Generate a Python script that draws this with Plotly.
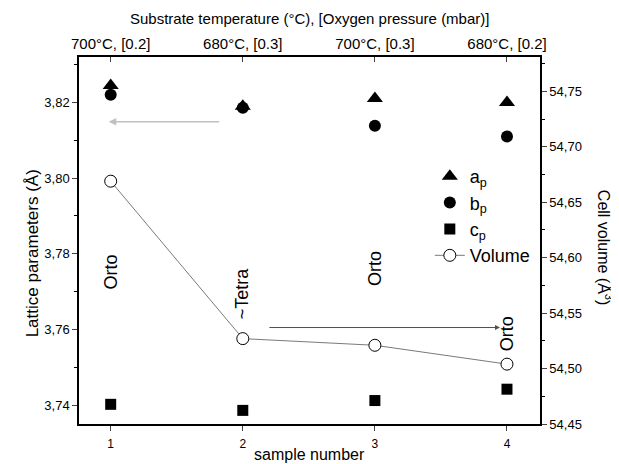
import plotly.graph_objects as go

samples = [1, 2, 3, 4]
top_labels = ["700°C, [0.2]", "680°C, [0.3]", "700°C, [0.3]", "680°C, [0.2]"]
a_p = [3.8245, 3.8190, 3.8210, 3.8200]
b_p = [3.8220, 3.8186, 3.8138, 3.8110]
c_p = [3.7402, 3.7386, 3.7412, 3.7442]
volume = [54.669, 54.527, 54.521, 54.504]
phase_labels = ["Orto", "~Tetra", "Orto", "Orto"]
phase_label_y = [3.7752, 3.7695, 3.7762, 3.7590]

FONT = "Liberation Sans, Arial, sans-serif"
XR = [0.76, 4.25]

fig = go.Figure()
fig.add_trace(go.Scatter(x=samples, y=a_p, mode="markers", name="a<sub>p</sub>",
                         marker=dict(symbol="triangle-up", size=14, color="black")))
fig.add_trace(go.Scatter(x=samples, y=b_p, mode="markers", name="b<sub>p</sub>",
                         marker=dict(symbol="circle", size=12, color="black")))
fig.add_trace(go.Scatter(x=samples, y=c_p, mode="markers", name="c<sub>p</sub>",
                         marker=dict(symbol="square", size=11, color="black")))
fig.add_trace(go.Scatter(x=samples, y=volume, mode="lines+markers", name="Volume", yaxis="y2",
                         line=dict(color="#7a7a7a", width=1),
                         marker=dict(symbol="circle", size=12, color="white",
                                     line=dict(color="black", width=1))))
# invisible trace to activate the top axis
fig.add_trace(go.Scatter(x=samples, y=a_p, xaxis="x2", mode="markers", showlegend=False,
                         marker=dict(opacity=0), hoverinfo="skip"))

ann = []
for s, t, yv in zip(samples, phase_labels, phase_label_y):
    ann.append(dict(x=s, y=yv, xref="x", yref="y", text=t, showarrow=False, textangle=-90,
                    font=dict(family=FONT, size=18, color="black")))
# arrows
ann.append(dict(x=0.985, y=3.8149, ax=1.833, ay=3.8149, xref="x", yref="y", axref="x", ayref="y",
                text="", showarrow=True, arrowhead=2, arrowsize=1, arrowwidth=1.5, arrowcolor="#c0c0c0"))
ann.append(dict(x=3.947, y=3.7605, ax=2.19, ay=3.7605, xref="x", yref="y", axref="x", ayref="y",
                text="", showarrow=True, arrowhead=2, arrowsize=1, arrowwidth=1, arrowcolor="#505050"))
# left axis title
ann.append(dict(x=0.0, y=0.465, xref="paper", yref="paper", xanchor="center", yanchor="middle",
                xshift=-47, text="Lattice parameters (Å)", showarrow=False, textangle=-90,
                font=dict(family=FONT, size=17, color="black")))
# right axis title (rotated +90)
ann.append(dict(x=1.0, y=0.48, xref="paper", yref="paper", xanchor="center", yanchor="middle",
                xshift=65, text="Cell volume (Å<sup>3</sup>)", showarrow=False, textangle=90,
                font=dict(family=FONT, size=16, color="black")))
# bottom axis title
ann.append(dict(x=0.5, y=0.0, xref="paper", yref="paper", xanchor="center", yanchor="middle",
                yshift=-30, text="sample number", showarrow=False,
                font=dict(family=FONT, size=16, color="black")))
# top axis title
ann.append(dict(x=0.5, y=1.0, xref="paper", yref="paper", yanchor="bottom", yshift=28,
                text="Substrate temperature (°C), [Oxygen pressure (mbar)]", showarrow=False,
                font=dict(family=FONT, size=15, color="black")))

fig.update_layout(
    width=611, height=456,
    margin=dict(l=71, r=79, t=49, b=40),
    paper_bgcolor="white", plot_bgcolor="white",
    separators=", ",
    font=dict(family=FONT, size=13, color="black"),
    showlegend=True,
    legend=dict(x=0.761, y=0.725, xanchor="left", yanchor="top", bgcolor="rgba(0,0,0,0)",
                font=dict(family=FONT, size=18), tracegroupgap=0, itemsizing="trace"),
    xaxis=dict(range=XR, tickvals=samples, ticks="outside", ticklen=5, showline=True,
               linecolor="black", linewidth=1.5, showgrid=False, zeroline=False, mirror=False,
               ticklabelstandoff=3, tickfont=dict(size=12), automargin=False),
    xaxis2=dict(range=XR, overlaying="x", side="top", tickvals=samples, ticktext=top_labels,
                ticks="inside", ticklen=5, showline=True, linecolor="black", linewidth=1.5,
                showgrid=False, zeroline=False, tickfont=dict(size=15), automargin=False),
    yaxis=dict(range=[3.735, 3.832], tickvals=[3.74, 3.76, 3.78, 3.80, 3.82], tickformat=".2f",
               ticks="outside", ticklen=5, showline=True, linecolor="black", linewidth=1.5,
               showgrid=False, zeroline=False, automargin=False,
               minor=dict(dtick=0.01, tick0=3.73, ticks="outside", ticklen=3, tickcolor="black"),
               tickfont=dict(size=13)),
    yaxis2=dict(range=[54.45, 54.781], overlaying="y", side="right", dtick=0.05, tick0=54.45,
                tickformat=".2f", ticks="outside", ticklen=5, showline=True, linecolor="black",
                linewidth=1.5, showgrid=False, zeroline=False, automargin=False,
                minor=dict(dtick=0.025, tick0=54.45, ticks="outside", ticklen=3, tickcolor="black"),
                tickfont=dict(size=13)),
    annotations=ann,
)

fig.write_html("out.html")
